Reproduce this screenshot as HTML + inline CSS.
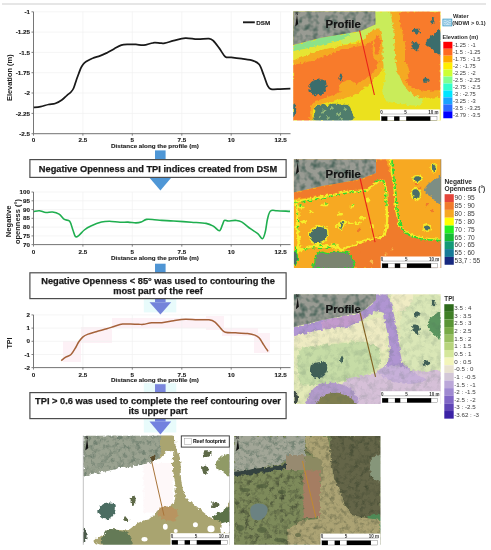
<!DOCTYPE html>
<html><head><meta charset="utf-8"><style>
html,body{margin:0;padding:0;background:#fff;}
body{width:491px;height:550px;overflow:hidden;position:relative;}
svg{position:absolute;left:0;top:0;display:block;will-change:transform;}
text{font-family:"Liberation Sans", sans-serif;}
.tk{font-size:6.25px;font-weight:bold;fill:#1a1a1a;stroke:#1a1a1a;stroke-width:0.12px;}
.bx{font-size:9.27px;font-weight:bold;fill:#1a1a1a;stroke:#1a1a1a;stroke-width:0.25px;}
.lg{font-size:5.7px;fill:#3a3a3a;}
.lgb{font-size:5.7px;font-weight:bold;fill:#2a2a2a;}
.sb{font-size:4.5px;font-weight:bold;fill:#333;}
</style></head><body>
<svg width="491" height="550" viewBox="0 0 491 550">
<defs>
<filter id="texA" x="0" y="0" width="1" height="1" color-interpolation-filters="sRGB">
<feTurbulence type="fractalNoise" baseFrequency="0.16" numOctaves="2" seed="4" result="n"/>
<feColorMatrix in="n" type="matrix" values="0 0 0 0 0.30  0 0 0 0 0.40  0 0 0 0 0.36  2.6 0 0 0 -1.1" result="c"/>
<feComposite in="c" in2="SourceAlpha" operator="in"/>
</filter>
<filter id="texO" x="0" y="0" width="1" height="1" color-interpolation-filters="sRGB">
<feTurbulence type="fractalNoise" baseFrequency="0.2" numOctaves="2" seed="9" result="n"/>
<feColorMatrix in="n" type="matrix" values="0 0 0 0 0.26  0 0 0 0 0.29  0 0 0 0 0.20  2.2 0 0 0 -1.0" result="c"/>
<feComposite in="c" in2="SourceAlpha" operator="in"/>
</filter>
<filter id="texB" x="0" y="0" width="1" height="1" color-interpolation-filters="sRGB">
<feTurbulence type="fractalNoise" baseFrequency="0.22" numOctaves="2" seed="7" result="n"/>
<feColorMatrix in="n" type="matrix" values="0 0 0 0 0.36  0 0 0 0 0.44  0 0 0 0 0.38  2.0 0 0 0 -0.9" result="c"/>
<feComposite in="c" in2="SourceAlpha" operator="in"/>
</filter>
<filter id="rough" x="0" y="0" width="1" height="1" color-interpolation-filters="sRGB">
<feTurbulence type="fractalNoise" baseFrequency="0.3" numOctaves="2" seed="5" result="t"/>
<feDisplacementMap in="SourceGraphic" in2="t" scale="4.5" xChannelSelector="R" yChannelSelector="G"/>
</filter>
<filter id="texL" x="0" y="0" width="1" height="1" color-interpolation-filters="sRGB">
<feTurbulence type="fractalNoise" baseFrequency="0.3" numOctaves="2" seed="2" result="n"/>
<feColorMatrix in="n" type="matrix" values="0 0 0 0 0.85  0 0 0 0 0.85  0 0 0 0 0.78  3.0 0 0 0 -1.6" result="c"/>
<feComposite in="c" in2="SourceAlpha" operator="in"/>
</filter>
</defs>
<rect x="0" y="0" width="491" height="550" fill="#fff"/>
<line x1="2" y1="4" x2="486" y2="4" stroke="#e6e6e6" stroke-width="2"/>

<line x1="34" y1="11.8" x2="290.5" y2="11.8" stroke="#f0f0f0" stroke-width="0.7"/>
<line x1="34" y1="32.1" x2="290.5" y2="32.1" stroke="#f0f0f0" stroke-width="0.7"/>
<line x1="34" y1="52.4" x2="290.5" y2="52.4" stroke="#f0f0f0" stroke-width="0.7"/>
<line x1="34" y1="72.7" x2="290.5" y2="72.7" stroke="#f0f0f0" stroke-width="0.7"/>
<line x1="34" y1="93.0" x2="290.5" y2="93.0" stroke="#f0f0f0" stroke-width="0.7"/>
<line x1="34" y1="113.4" x2="290.5" y2="113.4" stroke="#f0f0f0" stroke-width="0.7"/>
<line x1="34" y1="133.7" x2="290.5" y2="133.7" stroke="#f0f0f0" stroke-width="0.7"/>
<line x1="82.9" y1="11.8" x2="82.9" y2="133.7" stroke="#f0f0f0" stroke-width="0.7"/>
<line x1="132.3" y1="11.8" x2="132.3" y2="133.7" stroke="#f0f0f0" stroke-width="0.7"/>
<line x1="181.8" y1="11.8" x2="181.8" y2="133.7" stroke="#f0f0f0" stroke-width="0.7"/>
<line x1="231.2" y1="11.8" x2="231.2" y2="133.7" stroke="#f0f0f0" stroke-width="0.7"/>
<line x1="280.6" y1="11.8" x2="280.6" y2="133.7" stroke="#f0f0f0" stroke-width="0.7"/>
<line x1="33.5" y1="11.8" x2="33.5" y2="133.7" stroke="#666" stroke-width="0.9"/>
<line x1="33.5" y1="133.7" x2="290.5" y2="133.7" stroke="#666" stroke-width="0.9"/>
<line x1="31.5" y1="11.8" x2="33.5" y2="11.8" stroke="#666" stroke-width="0.8"/>
<text x="30" y="13.9" text-anchor="end" class="tk">-1</text>
<line x1="31.5" y1="32.1" x2="33.5" y2="32.1" stroke="#666" stroke-width="0.8"/>
<text x="30" y="34.2" text-anchor="end" class="tk">-1.25</text>
<line x1="31.5" y1="52.4" x2="33.5" y2="52.4" stroke="#666" stroke-width="0.8"/>
<text x="30" y="54.5" text-anchor="end" class="tk">-1.5</text>
<line x1="31.5" y1="72.7" x2="33.5" y2="72.7" stroke="#666" stroke-width="0.8"/>
<text x="30" y="74.8" text-anchor="end" class="tk">-1.75</text>
<line x1="31.5" y1="93.0" x2="33.5" y2="93.0" stroke="#666" stroke-width="0.8"/>
<text x="30" y="95.1" text-anchor="end" class="tk">-2</text>
<line x1="31.5" y1="113.4" x2="33.5" y2="113.4" stroke="#666" stroke-width="0.8"/>
<text x="30" y="115.5" text-anchor="end" class="tk">-2.25</text>
<line x1="31.5" y1="133.7" x2="33.5" y2="133.7" stroke="#666" stroke-width="0.8"/>
<text x="30" y="135.79999999999998" text-anchor="end" class="tk">-2.5</text>
<line x1="33.5" y1="133.7" x2="33.5" y2="135.7" stroke="#666" stroke-width="0.8"/>
<text x="33.5" y="142.29999999999998" text-anchor="middle" class="tk">0</text>
<line x1="82.9" y1="133.7" x2="82.9" y2="135.7" stroke="#666" stroke-width="0.8"/>
<text x="82.9" y="142.29999999999998" text-anchor="middle" class="tk">2.5</text>
<line x1="132.3" y1="133.7" x2="132.3" y2="135.7" stroke="#666" stroke-width="0.8"/>
<text x="132.3" y="142.29999999999998" text-anchor="middle" class="tk">5</text>
<line x1="181.8" y1="133.7" x2="181.8" y2="135.7" stroke="#666" stroke-width="0.8"/>
<text x="181.8" y="142.29999999999998" text-anchor="middle" class="tk">7.5</text>
<line x1="231.2" y1="133.7" x2="231.2" y2="135.7" stroke="#666" stroke-width="0.8"/>
<text x="231.2" y="142.29999999999998" text-anchor="middle" class="tk">10</text>
<line x1="280.6" y1="133.7" x2="280.6" y2="135.7" stroke="#666" stroke-width="0.8"/>
<text x="280.6" y="142.29999999999998" text-anchor="middle" class="tk">12.5</text>
<text x="155" y="148.29999999999998" text-anchor="middle" class="tk">Distance along the profile (m)</text>
<text transform="translate(12.2,77.7) rotate(-90)" text-anchor="middle" style="font-size:7.45px;font-weight:bold;fill:#1a1a1a">Elevation (m)</text>
<path d="M33.8,107.4 C34.9,107.3 38.1,107.1 40.6,106.6 C43.1,106.1 46.1,105.0 48.5,104.5 C50.9,104.0 53.0,104.2 55.2,103.5 C57.4,102.8 59.8,101.4 61.8,100.0 C63.8,98.6 65.5,96.6 67.0,95.3 C68.5,94.0 69.9,93.2 71.0,92.0 C72.1,90.8 72.8,90.0 73.7,88.0 C74.6,86.0 75.5,82.5 76.3,80.2 C77.1,77.9 77.9,75.9 78.6,74.0 C79.3,72.1 79.9,70.2 80.6,68.6 C81.3,67.0 82.1,65.7 83.0,64.5 C83.9,63.3 84.6,62.6 86.2,61.6 C87.8,60.6 90.3,59.2 92.6,58.3 C94.9,57.3 97.6,56.8 100.0,55.9 C102.4,55.0 104.3,54.1 106.8,52.9 C109.2,51.6 112.3,49.7 114.7,48.4 C117.1,47.1 119.1,45.9 121.3,45.2 C123.5,44.5 125.6,44.5 128.0,44.4 C130.4,44.3 133.3,44.3 135.9,44.4 C138.5,44.5 140.9,45.5 143.8,45.2 C146.7,44.9 150.4,43.1 153.1,42.8 C155.8,42.4 158.1,43.0 160.0,43.1 C161.9,43.2 162.5,43.5 164.8,43.1 C167.1,42.7 170.2,41.5 173.6,40.7 C177.0,39.9 181.4,38.4 185.4,38.1 C189.4,37.9 193.4,39.1 197.3,39.2 C201.2,39.3 206.3,38.3 209.0,38.6 C211.7,38.9 211.8,39.4 213.5,41.0 C215.2,42.6 217.4,45.8 219.4,48.4 C221.4,51.0 223.3,55.2 225.3,56.7 C227.3,58.2 228.5,57.0 231.2,57.3 C233.9,57.6 237.9,58.1 241.6,58.7 C245.3,59.3 250.4,59.8 253.4,60.8 C256.4,61.8 257.6,62.2 259.3,64.6 C261.0,67.0 262.3,71.5 263.7,75.0 C265.1,78.5 266.3,83.0 267.5,85.3 C268.7,87.6 268.9,88.5 271.0,89.1 C273.1,89.7 276.8,89.2 280.0,89.1 C283.2,89.0 288.7,88.7 290.4,88.6" fill="none" stroke="#1a1a1a" stroke-width="1.75" stroke-linejoin="round"/>
<line x1="243" y1="22.3" x2="254.8" y2="22.3" stroke="#1a1a1a" stroke-width="1.9"/>
<text x="256.3" y="24.5" class="tk">DSM</text>
<line x1="34" y1="192.0" x2="290.5" y2="192.0" stroke="#f0f0f0" stroke-width="0.7"/>
<line x1="34" y1="200.8" x2="290.5" y2="200.8" stroke="#f0f0f0" stroke-width="0.7"/>
<line x1="34" y1="209.6" x2="290.5" y2="209.6" stroke="#f0f0f0" stroke-width="0.7"/>
<line x1="34" y1="218.3" x2="290.5" y2="218.3" stroke="#f0f0f0" stroke-width="0.7"/>
<line x1="34" y1="227.1" x2="290.5" y2="227.1" stroke="#f0f0f0" stroke-width="0.7"/>
<line x1="34" y1="235.9" x2="290.5" y2="235.9" stroke="#f0f0f0" stroke-width="0.7"/>
<line x1="34" y1="244.6" x2="290.5" y2="244.6" stroke="#f0f0f0" stroke-width="0.7"/>
<line x1="82.9" y1="192.0" x2="82.9" y2="244.6" stroke="#f0f0f0" stroke-width="0.7"/>
<line x1="132.3" y1="192.0" x2="132.3" y2="244.6" stroke="#f0f0f0" stroke-width="0.7"/>
<line x1="181.8" y1="192.0" x2="181.8" y2="244.6" stroke="#f0f0f0" stroke-width="0.7"/>
<line x1="231.2" y1="192.0" x2="231.2" y2="244.6" stroke="#f0f0f0" stroke-width="0.7"/>
<line x1="280.6" y1="192.0" x2="280.6" y2="244.6" stroke="#f0f0f0" stroke-width="0.7"/>
<line x1="33.5" y1="192.0" x2="33.5" y2="244.6" stroke="#666" stroke-width="0.9"/>
<line x1="33.5" y1="244.6" x2="290.5" y2="244.6" stroke="#666" stroke-width="0.9"/>
<line x1="31.5" y1="192.0" x2="33.5" y2="192.0" stroke="#666" stroke-width="0.8"/>
<text x="30" y="194.1" text-anchor="end" class="tk">100</text>
<line x1="31.5" y1="200.8" x2="33.5" y2="200.8" stroke="#666" stroke-width="0.8"/>
<text x="30" y="202.9" text-anchor="end" class="tk">95</text>
<line x1="31.5" y1="209.6" x2="33.5" y2="209.6" stroke="#666" stroke-width="0.8"/>
<text x="30" y="211.7" text-anchor="end" class="tk">90</text>
<line x1="31.5" y1="218.3" x2="33.5" y2="218.3" stroke="#666" stroke-width="0.8"/>
<text x="30" y="220.4" text-anchor="end" class="tk">85</text>
<line x1="31.5" y1="227.1" x2="33.5" y2="227.1" stroke="#666" stroke-width="0.8"/>
<text x="30" y="229.2" text-anchor="end" class="tk">80</text>
<line x1="31.5" y1="235.9" x2="33.5" y2="235.9" stroke="#666" stroke-width="0.8"/>
<text x="30" y="238.0" text-anchor="end" class="tk">75</text>
<line x1="31.5" y1="244.6" x2="33.5" y2="244.6" stroke="#666" stroke-width="0.8"/>
<text x="30" y="246.7" text-anchor="end" class="tk">70</text>
<line x1="33.5" y1="244.6" x2="33.5" y2="246.6" stroke="#666" stroke-width="0.8"/>
<text x="33.5" y="253.9" text-anchor="middle" class="tk">0</text>
<line x1="82.9" y1="244.6" x2="82.9" y2="246.6" stroke="#666" stroke-width="0.8"/>
<text x="82.9" y="253.9" text-anchor="middle" class="tk">2.5</text>
<line x1="132.3" y1="244.6" x2="132.3" y2="246.6" stroke="#666" stroke-width="0.8"/>
<text x="132.3" y="253.9" text-anchor="middle" class="tk">5</text>
<line x1="181.8" y1="244.6" x2="181.8" y2="246.6" stroke="#666" stroke-width="0.8"/>
<text x="181.8" y="253.9" text-anchor="middle" class="tk">7.5</text>
<line x1="231.2" y1="244.6" x2="231.2" y2="246.6" stroke="#666" stroke-width="0.8"/>
<text x="231.2" y="253.9" text-anchor="middle" class="tk">10</text>
<line x1="280.6" y1="244.6" x2="280.6" y2="246.6" stroke="#666" stroke-width="0.8"/>
<text x="280.6" y="253.9" text-anchor="middle" class="tk">12.5</text>
<text x="155" y="259.70000000000005" text-anchor="middle" class="tk">Distance along the profile (m)</text>
<text transform="translate(11.2,221.3) rotate(-90)" text-anchor="middle" style="font-size:7.6px;font-weight:bold;fill:#1a1a1a">Negative</text>
<text transform="translate(20.3,221.5) rotate(-90)" text-anchor="middle" style="font-size:7.5px;font-weight:bold;fill:#1a1a1a">openness (°)</text>
<path d="M33.8,211.5 C34.7,211.4 37.3,210.5 39.3,210.7 C41.3,210.9 43.7,212.3 45.9,212.5 C48.1,212.7 50.3,211.7 52.5,212.0 C54.7,212.3 57.1,212.9 59.1,214.1 C61.1,215.3 62.6,218.2 64.4,219.4 C66.2,220.6 68.3,219.5 69.7,221.3 C71.1,223.1 71.9,227.4 72.9,230.0 C73.9,232.6 74.5,235.7 75.5,236.6 C76.5,237.5 77.5,236.4 79.0,235.3 C80.5,234.2 82.3,231.6 84.3,230.0 C86.3,228.4 88.0,227.3 90.9,226.0 C93.8,224.7 98.4,222.9 101.5,222.1 C104.6,221.3 106.3,221.3 109.4,221.3 C112.5,221.3 116.9,222.2 120.0,222.3 C123.1,222.4 125.3,222.0 128.0,222.1 C130.7,222.2 133.7,222.9 135.9,222.9 C138.1,222.9 139.4,222.7 141.2,222.1 C143.0,221.5 144.3,219.8 146.5,219.4 C148.7,219.0 151.8,219.5 154.4,219.7 C157.0,219.9 158.6,220.2 161.8,220.4 C165.0,220.6 168.7,220.7 173.6,221.0 C178.5,221.3 185.9,221.8 191.3,222.2 C196.7,222.6 202.4,222.7 206.1,223.4 C209.8,224.1 211.3,225.1 213.5,226.3 C215.7,227.5 217.9,231.0 219.4,230.8 C220.9,230.6 221.6,226.6 222.4,224.9 C223.2,223.2 223.4,221.1 224.4,220.4 C225.4,219.8 226.4,221.0 228.3,221.0 C230.2,221.0 233.4,220.2 235.6,220.4 C237.8,220.6 239.1,220.5 241.6,221.9 C244.1,223.3 247.7,226.7 250.4,228.7 C253.1,230.7 255.8,232.0 257.8,233.7 C259.8,235.4 261.2,239.0 262.4,238.8 C263.6,238.6 264.3,235.6 265.2,232.3 C266.1,229.0 266.6,222.6 267.5,219.0 C268.4,215.4 268.9,212.4 270.5,211.0 C272.1,209.6 273.8,210.6 277.0,210.7 C280.2,210.8 287.8,211.3 290.0,211.4" fill="none" stroke="#1fae4f" stroke-width="1.6" stroke-linejoin="round"/>
<g fill="#fdf1f6"><rect x="63" y="341" width="18" height="21"/><rect x="81" y="327" width="31" height="16"/><rect x="112" y="318" width="100" height="10"/><rect x="206" y="316" width="18" height="14"/><rect x="222" y="328" width="36" height="8"/><rect x="254" y="333" width="16" height="20"/></g>
<line x1="34" y1="314.9" x2="290.5" y2="314.9" stroke="#f0f0f0" stroke-width="0.7"/>
<line x1="34" y1="328.1" x2="290.5" y2="328.1" stroke="#f0f0f0" stroke-width="0.7"/>
<line x1="34" y1="341.3" x2="290.5" y2="341.3" stroke="#f0f0f0" stroke-width="0.7"/>
<line x1="34" y1="354.5" x2="290.5" y2="354.5" stroke="#f0f0f0" stroke-width="0.7"/>
<line x1="34" y1="367.6" x2="290.5" y2="367.6" stroke="#f0f0f0" stroke-width="0.7"/>
<line x1="82.9" y1="314.9" x2="82.9" y2="367.6" stroke="#f0f0f0" stroke-width="0.7"/>
<line x1="132.3" y1="314.9" x2="132.3" y2="367.6" stroke="#f0f0f0" stroke-width="0.7"/>
<line x1="181.8" y1="314.9" x2="181.8" y2="367.6" stroke="#f0f0f0" stroke-width="0.7"/>
<line x1="231.2" y1="314.9" x2="231.2" y2="367.6" stroke="#f0f0f0" stroke-width="0.7"/>
<line x1="280.6" y1="314.9" x2="280.6" y2="367.6" stroke="#f0f0f0" stroke-width="0.7"/>
<line x1="33.5" y1="314.9" x2="33.5" y2="367.6" stroke="#666" stroke-width="0.9"/>
<line x1="33.5" y1="367.6" x2="290.5" y2="367.6" stroke="#666" stroke-width="0.9"/>
<line x1="31.5" y1="314.9" x2="33.5" y2="314.9" stroke="#666" stroke-width="0.8"/>
<text x="30" y="317.0" text-anchor="end" class="tk">2</text>
<line x1="31.5" y1="328.1" x2="33.5" y2="328.1" stroke="#666" stroke-width="0.8"/>
<text x="30" y="330.20000000000005" text-anchor="end" class="tk">1</text>
<line x1="31.5" y1="341.3" x2="33.5" y2="341.3" stroke="#666" stroke-width="0.8"/>
<text x="30" y="343.40000000000003" text-anchor="end" class="tk">0</text>
<line x1="31.5" y1="354.5" x2="33.5" y2="354.5" stroke="#666" stroke-width="0.8"/>
<text x="30" y="356.6" text-anchor="end" class="tk">-1</text>
<line x1="31.5" y1="367.6" x2="33.5" y2="367.6" stroke="#666" stroke-width="0.8"/>
<text x="30" y="369.70000000000005" text-anchor="end" class="tk">-2</text>
<line x1="33.5" y1="367.6" x2="33.5" y2="369.6" stroke="#666" stroke-width="0.8"/>
<text x="33.5" y="376.6" text-anchor="middle" class="tk">0</text>
<line x1="82.9" y1="367.6" x2="82.9" y2="369.6" stroke="#666" stroke-width="0.8"/>
<text x="82.9" y="376.6" text-anchor="middle" class="tk">2.5</text>
<line x1="132.3" y1="367.6" x2="132.3" y2="369.6" stroke="#666" stroke-width="0.8"/>
<text x="132.3" y="376.6" text-anchor="middle" class="tk">5</text>
<line x1="181.8" y1="367.6" x2="181.8" y2="369.6" stroke="#666" stroke-width="0.8"/>
<text x="181.8" y="376.6" text-anchor="middle" class="tk">7.5</text>
<line x1="231.2" y1="367.6" x2="231.2" y2="369.6" stroke="#666" stroke-width="0.8"/>
<text x="231.2" y="376.6" text-anchor="middle" class="tk">10</text>
<line x1="280.6" y1="367.6" x2="280.6" y2="369.6" stroke="#666" stroke-width="0.8"/>
<text x="280.6" y="376.6" text-anchor="middle" class="tk">12.5</text>
<text x="155" y="382.40000000000003" text-anchor="middle" class="tk">Distance along the profile (m)</text>
<text transform="translate(12.2,343) rotate(-90)" text-anchor="middle" style="font-size:7.2px;font-weight:bold;fill:#1a1a1a">TPI</text>
<path d="M61.2,360.6 C62.0,360.0 64.1,358.2 65.7,357.2 C67.3,356.2 69.5,355.9 71.0,354.5 C72.5,353.1 73.7,350.9 75.0,348.7 C76.3,346.5 77.7,343.5 79.0,341.5 C80.3,339.5 81.5,338.0 83.0,336.8 C84.5,335.6 86.0,335.0 88.2,334.1 C90.4,333.2 93.1,332.6 96.2,331.7 C99.3,330.8 103.7,329.7 106.8,328.8 C109.9,327.9 112.0,327.0 114.7,326.2 C117.4,325.4 120.1,324.5 122.7,324.1 C125.3,323.8 128.0,324.1 130.6,324.1 C133.2,324.1 136.3,324.3 138.5,324.3 C140.7,324.3 141.6,324.6 143.8,324.3 C146.0,324.0 148.8,323.0 151.8,322.7 C154.8,322.4 158.2,323.0 161.8,322.7 C165.4,322.4 169.7,321.3 173.6,320.7 C177.5,320.1 181.4,319.3 185.4,319.2 C189.4,319.1 193.4,319.7 197.3,319.8 C201.2,319.9 206.1,319.4 209.0,319.8 C211.9,320.2 213.0,320.6 215.0,322.1 C217.0,323.6 219.2,326.9 220.9,328.6 C222.6,330.3 222.9,331.5 225.3,332.2 C227.8,332.9 231.9,332.6 235.6,332.8 C239.3,333.0 244.3,333.2 247.5,333.6 C250.7,334.0 252.8,334.4 254.8,335.1 C256.8,335.9 257.8,336.5 259.3,338.1 C260.8,339.7 262.2,342.7 263.7,344.9 C265.2,347.1 267.4,350.3 268.1,351.4" fill="none" stroke="#a5623a" stroke-width="1.5" stroke-linejoin="round"/>
<rect x="155" y="150.4" width="10.6" height="9.199999999999989" fill="#4f97d6"/>
<polygon points="149.5,177.7 171.2,177.7 160.4,190.4" fill="#4f97d6"/>
<rect x="155" y="263.7" width="10.6" height="9.300000000000011" fill="#4f95d4"/>
<rect x="143.8" y="298.2" width="32.5" height="14.199999999999989" fill="#e8fbfb"/><rect x="155" y="298.2" width="10.6" height="4" fill="#7484da"/><polygon points="149.5,302.2 171.2,302.2 160.4,314.4" fill="#7484da"/>
<rect x="143.8" y="383.2" width="32.5" height="9.600000000000023" fill="#e8fbfb"/><rect x="155" y="384.2" width="10.6" height="8.600000000000023" fill="#7a86dd"/>
<rect x="143.8" y="418.6" width="32.5" height="13.899999999999977" fill="#e8fbfb"/><rect x="155" y="418.6" width="10.6" height="3" fill="#7282df"/><polygon points="149.5,421.6 171.2,421.6 160.4,434.5" fill="#7282df"/>
<rect x="29.9" y="159.6" width="256.2" height="17.8" fill="#fff" stroke="#4d4d4d" stroke-width="1.2"/><text x="158" y="171.6" text-anchor="middle" class="bx">Negative Openness and TPI indices created from DSM</text>
<rect x="29.9" y="272.8" width="256.2" height="25.8" fill="#fff" stroke="#4d4d4d" stroke-width="1.2"/><text x="158" y="283.7" text-anchor="middle" class="bx">Negative Openness &lt; 85° was used to contouring the</text><text x="158" y="293.7" text-anchor="middle" class="bx">most part of the reef</text>
<rect x="29.9" y="392.6" width="256.2" height="25.99999999999999" fill="#fff" stroke="#4d4d4d" stroke-width="1.2"/><text x="158" y="403.7" text-anchor="middle" class="bx">TPI &gt; 0.6 was used to complete the reef contouring over</text><text x="158" y="413.7" text-anchor="middle" class="bx">its upper part</text>
<clipPath id="c1"><rect x="293.2" y="11.6" width="147.3" height="109"/></clipPath><g clip-path="url(#c1)"><g filter="url(#rough)"><rect x="287.2" y="5.6" width="159.3" height="121" fill="#ebe11e"/><polygon points="293.2,60.3 310.0,54.0 320.0,50.0 342.0,45.5 360.0,43.0 370.0,32.0 381.0,29.0 385.0,45.0 386.0,62.0 381.0,72.0 374.0,80.0 365.0,88.0 356.0,95.0 345.0,98.0 335.0,100.0 325.0,103.0 316.0,105.0 313.0,110.0 312.0,121.0 293.2,121.0" fill="#f5aa22" /><polygon points="293.2,64.5 300.0,63.5 310.0,61.5 320.0,58.0 330.0,54.0 342.0,49.0 355.0,47.0 365.0,45.0 372.0,41.0 377.0,39.0 380.5,48.0 380.5,60.0 376.0,68.0 371.0,75.0 362.0,80.0 355.0,85.0 345.0,90.0 333.0,95.0 322.0,99.0 315.0,101.0 311.0,106.0 310.0,121.0 293.2,121.0" fill="#f87b2b" /><path d="M338.0,86.0 C338.7,83.7 345.0,80.3 348.0,80.0 C351.0,79.7 355.0,82.0 356.0,84.0 C357.0,86.0 356.0,90.3 354.0,92.0 C352.0,93.7 346.7,95.0 344.0,94.0 C341.3,93.0 337.3,88.3 338.0,86.0Z" fill="#f5aa22" /><polygon points="388.0,11.6 440.5,11.6 440.5,97.0 425.0,98.0 410.0,95.0 402.0,86.0 397.0,72.0 395.0,55.0 394.0,40.0 392.0,25.0" fill="#f5aa22" /><polygon points="400.0,11.6 440.5,11.6 440.5,90.0 425.0,91.0 412.0,88.0 406.0,82.0 405.0,65.0 405.0,50.0 403.0,35.0 400.0,22.0" fill="#f87b2b" /><path d="M396.0,66.0 C396.8,63.3 401.8,61.3 404.0,62.0 C406.2,62.7 408.7,67.0 409.0,70.0 C409.3,73.0 407.7,78.7 406.0,80.0 C404.3,81.3 400.7,80.3 399.0,78.0 C397.3,75.7 395.2,68.7 396.0,66.0Z" fill="#f5aa22" /><polygon points="374.0,11.6 390.0,11.6 393.0,25.0 394.0,40.0 395.0,55.0 397.0,70.0 403.0,84.0 412.0,94.0 424.0,100.0 418.0,106.0 400.0,104.0 386.0,101.0 382.0,92.0 385.0,78.0 383.0,62.0 382.0,46.0 381.0,34.0 378.0,28.0 375.4,24.4" fill="#c9ec5a" /><path d="M333.0,36.0 C337.5,33.5 352.9,32.9 360.0,31.0 C367.1,29.1 372.2,24.9 375.4,24.4 C378.6,23.9 379.6,26.9 379.0,28.0 C378.4,29.1 374.2,29.7 372.0,31.0 C369.8,32.3 368.3,34.3 366.0,36.0 C363.7,37.7 361.5,39.7 358.0,41.0 C354.5,42.3 349.2,43.2 345.0,44.0 C340.8,44.8 335.0,47.3 333.0,46.0 C331.0,44.7 328.5,38.5 333.0,36.0Z" fill="#c9ec5a" /><path d="M372.0,31.0 C373.0,29.2 377.3,27.5 379.0,29.0 C380.7,30.5 381.5,35.7 382.0,40.0 C382.5,44.3 382.7,51.3 382.0,55.0 C381.3,58.7 379.5,62.0 378.0,62.0 C376.5,62.0 373.8,58.7 373.0,55.0 C372.2,51.3 373.2,44.0 373.0,40.0 C372.8,36.0 371.0,32.8 372.0,31.0Z" fill="#f5aa22" /><path d="M375.0,37.0 C375.7,35.0 378.2,34.2 379.0,36.0 C379.8,37.8 380.3,44.8 380.0,48.0 C379.7,51.2 377.8,55.0 377.0,55.0 C376.2,55.0 375.3,51.0 375.0,48.0 C374.7,45.0 374.3,39.0 375.0,37.0Z" fill="#f87b2b" /><polygon points="293.2,45.3 320.0,38.0 340.0,34.5 342.0,45.5 320.0,50.0 310.0,54.0 293.2,60.3" fill="#e6e433" /><polygon points="293.2,45.3 320.0,38.0 340.0,34.5 350.0,33.0 350.0,36.0 340.0,40.5 320.0,45.5 293.2,51.2" fill="#8ce28a" /><path d="M310.2,83.6 C311.1,81.8 313.2,80.8 315.2,80.1 C317.2,79.4 320.4,79.2 322.2,79.6 C324.0,80.0 325.6,80.9 326.2,82.6 C326.8,84.3 326.5,87.6 325.7,89.6 C324.9,91.6 323.1,93.7 321.2,94.6 C319.3,95.5 316.1,95.8 314.2,95.1 C312.3,94.4 310.4,92.5 309.7,90.6 C309.0,88.7 309.3,85.3 310.2,83.6Z" fill="#3b6d6c" /><path d="M340.7,73.6 C341.2,73.3 342.4,73.4 342.7,74.1 C342.9,74.8 342.5,76.4 342.2,77.6 C341.9,78.8 341.1,80.8 340.7,81.1 C340.2,81.4 339.7,80.5 339.5,79.6 C339.3,78.7 339.5,76.6 339.7,75.6 C339.9,74.6 340.2,73.8 340.7,73.6Z" fill="#3b6d6c" /><path d="M293.2,104.6 C293.6,102.9 295.2,105.4 295.7,106.6 C296.2,107.8 296.3,110.1 296.2,111.6 C296.1,113.1 295.7,114.8 295.2,115.6 C294.7,116.4 293.5,118.4 293.2,116.6 C292.9,114.8 292.8,106.3 293.2,104.6Z" fill="#3b6d6c" /><path d="M413.4,29.6 C414.1,28.9 417.0,28.5 418.2,28.8 C419.4,29.0 420.9,30.3 420.7,31.1 C420.5,31.9 418.4,33.4 417.2,33.7 C416.0,34.0 414.3,33.8 413.7,33.1 C413.1,32.4 412.6,30.3 413.4,29.6Z" fill="#3b6d6c" /><path d="M412.2,42.6 C412.9,41.8 415.0,41.4 416.2,41.9 C417.4,42.4 418.9,44.1 419.1,45.6 C419.4,47.1 418.6,50.1 417.7,50.9 C416.8,51.6 414.7,50.8 413.7,50.1 C412.7,49.4 411.9,47.9 411.7,46.6 C411.4,45.4 411.4,43.4 412.2,42.6Z" fill="#3b6d6c" /><path d="M440.5,31.3 C439.4,28.0 436.1,32.5 434.2,33.6 C432.3,34.7 430.6,36.3 429.2,37.6 C427.8,38.9 425.9,40.3 425.6,41.6 C425.3,42.9 426.1,44.4 427.2,45.6 C428.3,46.8 430.7,47.3 432.2,48.6 C433.7,49.9 434.8,52.6 436.2,53.4 C437.6,54.2 439.8,57.3 440.5,53.6 C441.2,49.9 441.6,34.6 440.5,31.3Z" fill="#3b6d6c" /><path d="M431.4,17.4 C431.9,16.6 434.1,17.2 434.6,18.1 C435.1,19.1 434.7,22.4 434.2,23.1 C433.7,23.9 432.2,23.6 431.7,22.6 C431.2,21.7 430.9,18.1 431.4,17.4Z" fill="#3b6d6c" /><path d="M423.2,79.1 C423.8,78.4 426.1,77.6 427.2,77.9 C428.3,78.1 429.8,79.8 429.7,80.6 C429.6,81.4 427.7,82.5 426.7,82.8 C425.7,83.0 424.3,82.7 423.7,82.1 C423.1,81.5 422.6,79.8 423.2,79.1Z" fill="#3b6d6c" /><path d="M315.2,107.6 C316.2,105.9 318.2,104.8 320.2,104.6 C322.2,104.3 325.0,106.2 327.2,106.1 C329.4,106.0 330.9,104.0 333.2,103.8 C335.5,103.5 338.7,104.3 341.2,104.6 C343.7,104.9 346.5,104.6 348.2,105.6 C349.9,106.6 350.7,108.1 351.2,110.6 C351.7,113.1 357.0,118.9 351.0,120.6 C345.0,122.3 321.3,121.6 315.2,120.6 C309.1,119.6 314.2,116.8 314.2,114.6 C314.2,112.4 314.2,109.3 315.2,107.6Z" fill="#4f7d6c" /><circle cx="323.2" cy="111.6" r="2" fill="#a8cc80" opacity="0.75"/><circle cx="331.2" cy="108.6" r="1.6" fill="#a8cc80" opacity="0.75"/><circle cx="338.2" cy="114.6" r="2" fill="#a8cc80" opacity="0.75"/><circle cx="345.2" cy="109.6" r="1.6" fill="#a8cc80" opacity="0.75"/><circle cx="320.2" cy="117.6" r="1.6" fill="#a8cc80" opacity="0.75"/><circle cx="328.2" cy="117.6" r="1.5" fill="#a8cc80" opacity="0.75"/><circle cx="341.2" cy="118.6" r="1.5" fill="#a8cc80" opacity="0.75"/></g><polygon points="290.0,8.0 375.4,8.0 375.4,24.4 360.0,31.2 340.0,34.5 320.0,38.0 290.0,45.8" fill="#999b93" /><polygon points="290.0,8.0 375.4,8.0 375.4,24.4 360.0,31.2 340.0,34.5 320.0,38.0 290.0,45.8" fill="#999b93" filter="url(#texA)"/><polygon points="297.0,14.6 298.2,24.1 295.2,26.6" fill="#111"/><text x="295.4" y="14.6" style="font-size:3.5px;font-weight:bold;fill:#222">N</text><text x="325.6" y="28.3" style="font-size:11.3px;font-weight:bold;fill:#141414;stroke:#141414;stroke-width:0.2px">Profile</text><line x1="359.6" y1="30.5" x2="374.4" y2="95" stroke="#e8201a" stroke-width="1.1"/></g><rect x="380" y="109.4" width="59.80000000000001" height="11.199999999999989" fill="#fff"/><line x1="381.5" y1="114.0" x2="437.8" y2="114.0" stroke="#666" stroke-width="0.4"/><text x="381.4" y="114.0" class="sb" text-anchor="middle">0</text><text x="405.6" y="114.0" class="sb" text-anchor="middle">5</text><text x="433.5" y="114.0" class="sb" text-anchor="middle">10 m</text><rect x="381.4" y="116.4" width="55.6" height="4.4" fill="none" stroke="#555" stroke-width="0.35"/><rect x="381.4" y="116.4" width="6.0" height="4.4" fill="#000"/><rect x="394.1" y="116.4" width="5.4" height="4.4" fill="#000"/><rect x="406.2" y="116.4" width="24.2" height="4.4" fill="#000"/><text x="453" y="18" class="lgb">Water</text><rect x="442.9" y="19.1" width="8.9" height="6.8" fill="#c4e2f2" stroke="#3d9bc4" stroke-width="0.8"/><path d="M444,21 q1.2,1.6 2.4,0 t2.4,0 t2.4,0 M444,23.4 q1.2,1.6 2.4,0 t2.4,0 t2.4,0" stroke="#4aa3cc" stroke-width="0.5" fill="none"/><text x="452.3" y="24.6" class="lgb">(NDWI &gt; 0.1)</text><text x="442.5" y="39" class="lgb">Elevation (m)</text><rect x="443.3" y="41.80" width="9.1" height="6.95" fill="#ff0000"/><text x="453" y="47.48" class="lg">-1.25 : -1</text><rect x="443.3" y="48.75" width="9.1" height="6.95" fill="#ff6a22"/><text x="453" y="54.43" class="lg">-1.5 : -1.25</text><rect x="443.3" y="55.70" width="9.1" height="6.95" fill="#ffa800"/><text x="453" y="61.38" class="lg">-1.75 : -1.5</text><rect x="443.3" y="62.65" width="9.1" height="6.95" fill="#ffee00"/><text x="453" y="68.33" class="lg">-2 : -1.75</text><rect x="443.3" y="69.60" width="9.1" height="6.95" fill="#ccff33"/><text x="453" y="75.28" class="lg">-2.25 : -2</text><rect x="443.3" y="76.55" width="9.1" height="6.95" fill="#7fff8f"/><text x="453" y="82.23" class="lg">-2.5 : -2.25</text><rect x="443.3" y="83.50" width="9.1" height="6.95" fill="#33ffcc"/><text x="453" y="89.18" class="lg">-2.75 : -2.5</text><rect x="443.3" y="90.45" width="9.1" height="6.95" fill="#00e5ff"/><text x="453" y="96.13" class="lg">-3 : -2.75</text><rect x="443.3" y="97.40" width="9.1" height="6.95" fill="#1aa3ff"/><text x="453" y="103.08" class="lg">-3.25 : -3</text><rect x="443.3" y="104.35" width="9.1" height="6.95" fill="#2b6bff"/><text x="453" y="110.03" class="lg">-3.5 : -3.25</text><rect x="443.3" y="111.30" width="9.1" height="6.95" fill="#0000ff"/><text x="453" y="116.98" class="lg">-3.79 : -3.5</text><clipPath id="c2"><rect x="293.9" y="159.2" width="147" height="108.7"/></clipPath><g clip-path="url(#c2)"><g filter="url(#rough)"><rect x="287.9" y="153.2" width="159" height="120.7" fill="#f7a922"/><polygon points="293.9,192.5 322.0,186.0 345.0,182.0 360.0,179.2 376.0,173.0 376.0,159.2 386.0,159.2 390.0,172.0 393.0,185.0 395.0,210.0 399.0,226.0 408.0,235.0 425.0,240.0 440.9,241.0 440.9,267.9 352.0,267.9 350.0,252.0 343.0,248.0 355.0,243.5 364.0,240.0 375.0,237.0 383.0,234.0 386.0,222.0 386.0,205.0 385.0,188.0 381.0,180.0 372.0,185.0 365.0,189.3 350.0,190.4 330.0,194.4 322.0,195.0 310.0,197.5 293.9,199.0" fill="#f07b2b" /><path d="M293.9,201.5 C296.6,201.2 304.0,200.5 310.0,199.5 C316.0,198.5 323.3,196.8 330.0,195.5 C336.7,194.2 344.2,192.4 350.0,191.5 C355.8,190.6 361.3,191.1 365.0,190.3 C368.7,189.5 369.7,188.1 372.0,186.5 C374.3,184.9 377.0,181.8 379.0,181.0 C381.0,180.2 382.8,180.5 384.0,182.0 C385.2,183.5 385.6,186.2 386.0,190.0 C386.4,193.8 386.3,199.7 386.5,205.0 C386.7,210.3 387.4,217.0 387.0,222.0 C386.6,227.0 386.0,232.3 384.0,235.0 C382.0,237.7 378.3,237.2 375.0,238.2 C371.7,239.2 367.3,239.9 364.0,241.0 C360.7,242.1 358.5,243.2 355.0,244.5 C351.5,245.8 345.0,248.2 343.0,249.0" fill="none" stroke="#f6ee2a" stroke-width="2.4" stroke-linecap="round" stroke-linejoin="round"/><path d="M391.0,160.0 C391.2,162.0 391.4,167.8 392.0,172.0 C392.6,176.2 393.8,178.7 394.5,185.0 C395.2,191.3 395.5,203.2 396.5,210.0 C397.5,216.8 398.4,222.0 400.5,226.0 C402.6,230.0 404.9,231.9 409.0,234.0 C413.1,236.1 419.7,237.8 425.0,238.8 C430.3,239.8 438.3,239.6 441.0,239.8" fill="none" stroke="#f6ee2a" stroke-width="2.4" stroke-linecap="round" stroke-linejoin="round"/><path d="M295.0,202.5 C297.5,202.2 304.2,201.5 310.0,200.5 C315.8,199.5 323.3,197.8 330.0,196.5 C336.7,195.2 344.2,193.4 350.0,192.5 C355.8,191.6 362.5,191.5 365.0,191.3" fill="none" stroke="#2fd72f" stroke-width="1.5" stroke-linecap="round" stroke-dasharray="3 4"/><path d="M376.0,181.5 C377.2,181.4 381.4,179.2 383.0,181.0 C384.6,182.8 385.0,187.5 385.5,192.0 C386.0,196.5 385.9,205.3 386.0,208.0" fill="none" stroke="#2fd72f" stroke-width="1.5" stroke-linecap="round" stroke-dasharray="4 3"/><path d="M392.0,161.0 C392.2,163.3 392.9,170.2 393.5,175.0 C394.1,179.8 394.8,183.8 395.5,190.0 C396.2,196.2 396.4,205.7 397.5,212.0 C398.6,218.3 399.9,224.1 402.0,228.0 C404.1,231.9 406.0,233.6 410.0,235.5 C414.0,237.4 420.8,238.7 426.0,239.5 C431.2,240.3 438.5,240.3 441.0,240.5" fill="none" stroke="#2fd72f" stroke-width="1.6" stroke-linecap="round" stroke-dasharray="5 2.5"/><path d="M296.0,204.0 C296.3,205.8 297.8,211.0 298.0,215.0 C298.2,219.0 296.8,223.8 297.0,228.0 C297.2,232.2 299.0,236.0 299.0,240.0 C299.0,244.0 297.3,250.0 297.0,252.0" fill="none" stroke="#f6ee2a" stroke-width="3.2" stroke-linecap="round" stroke-dasharray="6 2"/><path d="M296.5,206.0 C296.8,208.0 298.2,213.7 298.5,218.0 C298.8,222.3 298.1,229.7 298.0,232.0" fill="none" stroke="#2fd72f" stroke-width="1.3" stroke-linecap="round" stroke-dasharray="2 5"/><path d="M300.0,250.0 C301.7,249.5 306.7,247.7 310.0,247.0 C313.3,246.3 316.3,246.0 320.0,246.0 C323.7,246.0 328.2,246.4 332.0,247.0 C335.8,247.6 341.2,249.1 343.0,249.5" fill="none" stroke="#f6ee2a" stroke-width="3" stroke-linecap="round" stroke-dasharray="5 2"/><path d="M305.0,249.0 C307.2,248.8 313.8,247.6 318.0,247.5 C322.2,247.4 328.0,248.3 330.0,248.5" fill="none" stroke="#2fd72f" stroke-width="1.3" stroke-linecap="round" stroke-dasharray="3 4"/><path d="M336.0,226.0 C337.5,225.3 342.3,222.3 345.0,222.0 C347.7,221.7 349.2,224.0 352.0,224.0 C354.8,224.0 360.3,222.3 362.0,222.0" fill="none" stroke="#f6ee2a" stroke-width="2.2" stroke-linecap="round" stroke-dasharray="4 3"/><ellipse cx="300" cy="207" rx="4" ry="1.6" fill="#f6ee2a"/><ellipse cx="312" cy="212" rx="3" ry="1.2" fill="#f6ee2a"/><ellipse cx="325" cy="205" rx="4" ry="1.4" fill="#f6ee2a"/><ellipse cx="303" cy="222" rx="3" ry="1.5" fill="#f6ee2a"/><ellipse cx="318" cy="226" rx="3" ry="1.2" fill="#f6ee2a"/><ellipse cx="340" cy="214" rx="3" ry="1.5" fill="#f6ee2a"/><ellipse cx="352" cy="206" rx="2.5" ry="1.5" fill="#f6ee2a"/><ellipse cx="362" cy="218" rx="3" ry="1.5" fill="#f6ee2a"/><ellipse cx="335" cy="245" rx="4" ry="1.5" fill="#f6ee2a"/><ellipse cx="320" cy="245" rx="4" ry="1.5" fill="#f6ee2a"/><ellipse cx="300" cy="248" rx="3" ry="1.5" fill="#f6ee2a"/><ellipse cx="372" cy="226" rx="2" ry="2" fill="#f6ee2a"/><ellipse cx="368" cy="200" rx="2.5" ry="1.5" fill="#f6ee2a"/><ellipse cx="301" cy="206" rx="1.8" ry="0.9" fill="#2fd72f"/><ellipse cx="326" cy="204" rx="2" ry="0.9" fill="#2fd72f"/><ellipse cx="353" cy="205" rx="1.5" ry="0.8" fill="#2fd72f"/><ellipse cx="321" cy="245" rx="2" ry="0.9" fill="#2fd72f"/><ellipse cx="296" cy="250" rx="1.2" ry="3" fill="#2fd72f"/><ellipse cx="334" cy="244" rx="1.5" ry="0.8" fill="#2fd72f"/><circle cx="417" cy="184" r="1.3" fill="#f07b2b"/><circle cx="420" cy="188" r="1.3" fill="#f07b2b"/><circle cx="427" cy="205" r="1.3" fill="#f07b2b"/><circle cx="432" cy="210" r="1.3" fill="#f07b2b"/><circle cx="359" cy="230" r="1.3" fill="#f07b2b"/><circle cx="372" cy="262" r="1.3" fill="#f07b2b"/><circle cx="392" cy="250" r="1.3" fill="#f07b2b"/><circle cx="398" cy="262" r="1.3" fill="#f07b2b"/><circle cx="360" cy="252" r="1.3" fill="#f07b2b"/><circle cx="392" cy="250" r="1.4" fill="#f8b84a"/><circle cx="398" cy="262" r="1.4" fill="#f8b84a"/><circle cx="372" cy="262" r="1.4" fill="#f8b84a"/><circle cx="385" cy="254" r="1.4" fill="#f8b84a"/><path d="M310.9,231.2 C311.8,229.4 313.9,228.4 315.9,227.7 C317.9,227.0 321.1,226.8 322.9,227.2 C324.7,227.6 326.3,228.5 326.9,230.2 C327.5,231.9 327.2,235.2 326.4,237.2 C325.6,239.2 323.8,241.3 321.9,242.2 C320.0,243.1 316.8,243.4 314.9,242.7 C313.0,242.0 311.1,240.1 310.4,238.2 C309.7,236.3 310.0,232.9 310.9,231.2Z" fill="#f6ee2a" stroke="#f6ee2a" stroke-width="2.8"/><path d="M341.4,221.2 C341.9,220.9 343.1,221.0 343.4,221.7 C343.6,222.4 343.2,224.0 342.9,225.2 C342.6,226.4 341.8,228.4 341.4,228.7 C340.9,229.0 340.4,228.1 340.2,227.2 C340.0,226.3 340.2,224.2 340.4,223.2 C340.6,222.2 340.9,221.4 341.4,221.2Z" fill="#f6ee2a" stroke="#f6ee2a" stroke-width="2.8"/><path d="M414.1,177.2 C414.8,176.5 417.7,176.1 418.9,176.4 C420.1,176.6 421.6,177.9 421.4,178.7 C421.2,179.5 419.1,181.0 417.9,181.3 C416.7,181.6 415.0,181.4 414.4,180.7 C413.8,180.0 413.3,177.9 414.1,177.2Z" fill="#f6ee2a" stroke="#f6ee2a" stroke-width="2.8"/><path d="M412.9,190.2 C413.6,189.4 415.8,189.0 416.9,189.5 C418.0,190.0 419.5,191.7 419.8,193.2 C420.0,194.7 419.3,197.8 418.4,198.5 C417.5,199.2 415.4,198.4 414.4,197.7 C413.4,197.0 412.6,195.4 412.4,194.2 C412.1,192.9 412.1,191.0 412.9,190.2Z" fill="#f6ee2a" stroke="#f6ee2a" stroke-width="2.8"/><path d="M432.1,165.0 C432.6,164.2 434.8,164.8 435.3,165.7 C435.8,166.6 435.4,169.9 434.9,170.7 C434.4,171.4 432.9,171.1 432.4,170.2 C431.9,169.2 431.6,165.8 432.1,165.0Z" fill="#f6ee2a" stroke="#f6ee2a" stroke-width="2.8"/><path d="M423.9,226.7 C424.5,226.0 426.8,225.2 427.9,225.5 C429.0,225.8 430.5,227.4 430.4,228.2 C430.3,229.0 428.4,230.1 427.4,230.4 C426.4,230.6 425.0,230.3 424.4,229.7 C423.8,229.1 423.3,227.4 423.9,226.7Z" fill="#f6ee2a" stroke="#f6ee2a" stroke-width="2.8"/><path d="M310.9,231.2 C311.8,229.4 313.9,228.4 315.9,227.7 C317.9,227.0 321.1,226.8 322.9,227.2 C324.7,227.6 326.3,228.5 326.9,230.2 C327.5,231.9 327.2,235.2 326.4,237.2 C325.6,239.2 323.8,241.3 321.9,242.2 C320.0,243.1 316.8,243.4 314.9,242.7 C313.0,242.0 311.1,240.1 310.4,238.2 C309.7,236.3 310.0,232.9 310.9,231.2Z" fill="#4b6e68" /><path d="M341.4,221.2 C341.9,220.9 343.1,221.0 343.4,221.7 C343.6,222.4 343.2,224.0 342.9,225.2 C342.6,226.4 341.8,228.4 341.4,228.7 C340.9,229.0 340.4,228.1 340.2,227.2 C340.0,226.3 340.2,224.2 340.4,223.2 C340.6,222.2 340.9,221.4 341.4,221.2Z" fill="#4b6e68" /><path d="M414.1,177.2 C414.8,176.5 417.7,176.1 418.9,176.4 C420.1,176.6 421.6,177.9 421.4,178.7 C421.2,179.5 419.1,181.0 417.9,181.3 C416.7,181.6 415.0,181.4 414.4,180.7 C413.8,180.0 413.3,177.9 414.1,177.2Z" fill="#4b6e68" /><path d="M412.9,190.2 C413.6,189.4 415.8,189.0 416.9,189.5 C418.0,190.0 419.5,191.7 419.8,193.2 C420.0,194.7 419.3,197.8 418.4,198.5 C417.5,199.2 415.4,198.4 414.4,197.7 C413.4,197.0 412.6,195.4 412.4,194.2 C412.1,192.9 412.1,191.0 412.9,190.2Z" fill="#4b6e68" /><path d="M432.1,165.0 C432.6,164.2 434.8,164.8 435.3,165.7 C435.8,166.6 435.4,169.9 434.9,170.7 C434.4,171.4 432.9,171.1 432.4,170.2 C431.9,169.2 431.6,165.8 432.1,165.0Z" fill="#4b6e68" /><path d="M423.9,226.7 C424.5,226.0 426.8,225.2 427.9,225.5 C429.0,225.8 430.5,227.4 430.4,228.2 C430.3,229.0 428.4,230.1 427.4,230.4 C426.4,230.6 425.0,230.3 424.4,229.7 C423.8,229.1 423.3,227.4 423.9,226.7Z" fill="#4b6e68" /><path d="M441.2,177.2 C440.0,173.2 436.1,178.0 433.9,179.2 C431.7,180.4 429.4,182.5 427.9,184.2 C426.4,185.9 425.1,187.5 424.9,189.2 C424.7,190.9 425.7,192.9 426.9,194.2 C428.1,195.5 430.4,195.9 431.9,197.2 C433.4,198.5 434.3,201.2 435.9,202.2 C437.4,203.2 440.3,207.4 441.2,203.2 C442.1,199.0 442.4,181.2 441.2,177.2Z" fill="#7d8e84" /><path d="M293.9,252.2 C294.3,250.5 295.9,253.0 296.4,254.2 C296.9,255.4 297.0,257.7 296.9,259.2 C296.8,260.7 296.4,262.4 295.9,263.2 C295.4,264.0 294.2,266.0 293.9,264.2 C293.6,262.4 293.5,253.9 293.9,252.2Z" fill="#2fd72f" stroke="#2fd72f" stroke-width="2.2"/><path d="M293.9,252.2 C294.3,250.5 295.9,253.0 296.4,254.2 C296.9,255.4 297.0,257.7 296.9,259.2 C296.8,260.7 296.4,262.4 295.9,263.2 C295.4,264.0 294.2,266.0 293.9,264.2 C293.6,262.4 293.5,253.9 293.9,252.2Z" fill="#4b6e68" /><path d="M315.9,255.2 C316.9,253.5 318.9,252.4 320.9,252.2 C322.9,251.9 325.7,253.8 327.9,253.7 C330.1,253.6 331.6,251.6 333.9,251.4 C336.2,251.1 339.4,251.9 341.9,252.2 C344.4,252.5 347.2,252.2 348.9,253.2 C350.6,254.2 351.4,255.7 351.9,258.2 C352.4,260.7 357.7,266.5 351.7,268.2 C345.7,269.9 322.0,269.2 315.9,268.2 C309.8,267.2 314.9,264.4 314.9,262.2 C314.9,260.0 314.9,256.9 315.9,255.2Z" fill="#7b8470" stroke="#2fd72f" stroke-width="1.2"/></g><polygon points="290.0,155.0 376.0,155.0 376.0,173.0 360.0,179.2 345.0,182.0 322.0,186.0 290.0,193.2" fill="#999b93" /><polygon points="290.0,155.0 376.0,155.0 376.0,173.0 360.0,179.2 345.0,182.0 322.0,186.0 290.0,193.2" fill="#999b93" filter="url(#texA)"/><polygon points="297.7,162.2 298.9,171.7 295.9,174.2" fill="#111"/><text x="296.09999999999997" y="162.2" style="font-size:3.5px;font-weight:bold;fill:#222">N</text><text x="325.6" y="177.8" style="font-size:11.3px;font-weight:bold;fill:#141414;stroke:#141414;stroke-width:0.2px">Profile</text><line x1="360" y1="178" x2="375.1" y2="242.2" stroke="#e8201a" stroke-width="1.1"/></g><line x1="440.9" y1="159.2" x2="440.9" y2="267.9" stroke="#7a6a50" stroke-width="0.6"/><rect x="380.7" y="256.5" width="59.80000000000001" height="11.399999999999977" fill="#fff"/><line x1="382.2" y1="261.1" x2="438.5" y2="261.1" stroke="#666" stroke-width="0.4"/><text x="382.09999999999997" y="261.1" class="sb" text-anchor="middle">0</text><text x="406.3" y="261.1" class="sb" text-anchor="middle">5</text><text x="434.2" y="261.1" class="sb" text-anchor="middle">10 m</text><rect x="382.09999999999997" y="263.5" width="55.6" height="4.4" fill="none" stroke="#555" stroke-width="0.35"/><rect x="382.09999999999997" y="263.5" width="6.0" height="4.4" fill="#000"/><rect x="394.8" y="263.5" width="5.4" height="4.4" fill="#000"/><rect x="406.9" y="263.5" width="24.2" height="4.4" fill="#000"/><text x="444.5" y="184.2" class="lgb" style="font-size:6.6px">Negative</text><text x="444.5" y="191.2" class="lgb" style="font-size:6.6px">Openness (°)</text><rect x="444.6" y="194.20" width="9.2" height="7.84" fill="#e5453a"/><text x="454.6" y="200.42" class="lg" style="font-size:6.6px">90 : 95</text><rect x="444.6" y="202.04" width="9.2" height="7.84" fill="#f07a2c"/><text x="454.6" y="208.26" class="lg" style="font-size:6.6px">85 : 90</text><rect x="444.6" y="209.88" width="9.2" height="7.84" fill="#f7a822"/><text x="454.6" y="216.10" class="lg" style="font-size:6.6px">80 : 85</text><rect x="444.6" y="217.72" width="9.2" height="7.84" fill="#ffff00"/><text x="454.6" y="223.94" class="lg" style="font-size:6.6px">75 : 80</text><rect x="444.6" y="225.56" width="9.2" height="7.84" fill="#22ee22"/><text x="454.6" y="231.78" class="lg" style="font-size:6.6px">70 : 75</text><rect x="444.6" y="233.40" width="9.2" height="7.84" fill="#14bb33"/><text x="454.6" y="239.62" class="lg" style="font-size:6.6px">65 : 70</text><rect x="444.6" y="241.24" width="9.2" height="7.84" fill="#139977"/><text x="454.6" y="247.46" class="lg" style="font-size:6.6px">60 : 65</text><rect x="444.6" y="249.08" width="9.2" height="7.84" fill="#167a98"/><text x="454.6" y="255.30" class="lg" style="font-size:6.6px">55 : 60</text><rect x="444.6" y="256.92" width="9.2" height="7.84" fill="#17297f"/><text x="454.6" y="263.14" class="lg" style="font-size:6.6px">53,7 : 55</text><clipPath id="c3"><rect x="293.9" y="294.3" width="146.8" height="109.8"/></clipPath><g clip-path="url(#c3)"><g filter="url(#rough)"><rect x="287.9" y="288.3" width="158.8" height="121.8" fill="#e4eab8"/><path d="M300.0,350.0 C303.3,344.0 312.5,347.2 320.0,346.0 C327.5,344.8 337.5,343.7 345.0,343.0 C352.5,342.3 359.5,341.2 365.0,342.0 C370.5,342.8 375.5,344.7 378.0,348.0 C380.5,351.3 381.0,358.0 380.0,362.0 C379.0,366.0 376.2,369.3 372.0,372.0 C367.8,374.7 361.2,376.2 355.0,378.0 C348.8,379.8 341.7,381.8 335.0,383.0 C328.3,384.2 320.8,385.2 315.0,385.0 C309.2,384.8 302.5,387.8 300.0,382.0 C297.5,376.2 296.7,356.0 300.0,350.0Z" fill="#c6dca6" /><path d="M293.9,335.0 C299.9,331.8 319.0,330.2 330.0,328.0 C341.0,325.8 351.2,323.7 360.0,322.0 C368.8,320.3 378.7,316.7 383.0,318.0 C387.3,319.3 385.7,324.7 386.0,330.0 C386.3,335.3 386.8,347.5 385.0,350.0 C383.2,352.5 379.2,346.7 375.0,345.0 C370.8,343.3 365.8,340.5 360.0,340.0 C354.2,339.5 346.7,341.2 340.0,342.0 C333.3,342.8 327.7,344.2 320.0,345.0 C312.3,345.8 298.2,348.7 293.9,347.0 C289.5,345.3 287.9,338.2 293.9,335.0Z" fill="#eeebc2" /><path d="M405.0,300.0 C409.0,296.3 419.1,296.3 425.0,296.0 C430.9,295.7 438.1,285.3 440.7,298.0 C443.3,310.7 444.1,359.3 440.7,372.0 C437.2,384.7 425.9,375.0 420.0,374.0 C414.1,373.0 408.3,371.7 405.0,366.0 C401.7,360.3 400.7,348.0 400.0,340.0 C399.3,332.0 400.2,324.7 401.0,318.0 C401.8,311.3 401.0,303.7 405.0,300.0Z" fill="#dae7b7" /><path d="M440.7,313.0 C439.4,309.3 435.1,314.5 433.0,316.0 C430.9,317.5 428.5,319.7 428.0,322.0 C427.5,324.3 428.7,327.7 430.0,330.0 C431.3,332.3 434.2,334.7 436.0,336.0 C437.8,337.3 439.9,341.8 440.7,338.0 C441.5,334.2 442.0,316.7 440.7,313.0Z" fill="#5b955f" /><path d="M335.0,404.1 C317.9,402.1 336.2,396.0 338.0,392.0 C339.8,388.0 342.3,382.7 346.0,380.0 C349.7,377.3 355.2,377.2 360.0,376.0 C364.8,374.8 370.3,374.0 375.0,373.0 C379.7,372.0 384.2,371.0 388.0,370.0 C391.8,369.0 394.3,367.0 398.0,367.0 C401.7,367.0 405.5,369.2 410.0,370.0 C414.5,370.8 419.9,371.7 425.0,372.0 C430.1,372.3 438.1,366.6 440.7,372.0 C443.3,377.4 458.3,398.8 440.7,404.1 C423.1,409.5 352.1,406.1 335.0,404.1Z" fill="#d6c0d8" /><polygon points="293.9,327.2 322.0,319.9 360.0,312.8 368.0,307.0 376.0,300.0 376.0,294.3 388.0,294.3 392.0,306.0 395.0,320.0 398.0,335.0 400.0,350.0 402.0,362.0 410.0,370.0 418.0,378.0 405.0,380.0 392.0,377.0 383.0,373.0 388.0,362.0 390.0,350.0 388.0,335.0 385.0,322.0 384.0,313.0 378.0,311.0 372.0,313.0 365.0,318.5 350.0,326.4 320.0,330.0 293.9,336.0" fill="#b095d2" /><polygon points="322.0,320.5 345.0,316.0 360.0,313.5 366.0,317.0 350.0,325.5 322.0,329.5" fill="#c39bcd" /><path d="M378.0,372.0 C377.3,369.5 384.0,367.0 388.0,366.0 C392.0,365.0 397.3,364.7 402.0,366.0 C406.7,367.3 412.0,371.7 416.0,374.0 C420.0,376.3 427.0,378.3 426.0,380.0 C425.0,381.7 415.7,383.8 410.0,384.0 C404.3,384.2 397.3,383.0 392.0,381.0 C386.7,379.0 378.7,374.5 378.0,372.0Z" fill="#c7b0d9" /><path d="M392.0,294.3 C395.0,292.4 409.0,292.5 412.0,294.3 C415.0,296.1 412.0,302.1 410.0,305.0 C408.0,307.9 402.7,311.8 400.0,312.0 C397.3,312.2 395.3,308.9 394.0,306.0 C392.7,303.1 389.0,296.2 392.0,294.3Z" fill="#f0ecc4" /><path d="M308.0,398.0 C309.0,395.3 311.0,390.5 314.0,388.0 C317.0,385.5 321.7,383.7 326.0,383.0 C330.3,382.3 335.7,382.8 340.0,384.0 C344.3,385.2 349.3,386.6 352.0,390.0 C354.7,393.4 363.3,401.8 356.0,404.1 C348.7,406.5 316.0,405.1 308.0,404.1 C300.0,403.1 307.0,400.7 308.0,398.0Z" fill="#b49ccc" /><path d="M318.0,406.0 C312.8,404.5 319.7,399.2 322.0,397.0 C324.3,394.8 328.3,393.5 332.0,393.0 C335.7,392.5 340.7,393.0 344.0,394.0 C347.3,395.0 350.5,397.0 352.0,399.0 C353.5,401.0 358.7,404.8 353.0,406.0 C347.3,407.2 323.2,407.5 318.0,406.0Z" fill="#7f7e4f" /><path d="M293.9,392.0 C294.4,390.1 296.3,391.7 297.0,393.0 C297.7,394.3 298.2,398.1 298.0,400.0 C297.8,401.9 296.7,403.4 296.0,404.1 C295.3,404.8 294.2,406.1 293.9,404.1 C293.5,402.1 293.4,393.9 293.9,392.0Z" fill="#3e4a44" /><path d="M310.9,366.3 C311.8,364.6 313.9,363.5 315.9,362.8 C317.9,362.1 321.1,361.9 322.9,362.3 C324.7,362.7 326.3,363.6 326.9,365.3 C327.5,367.0 327.2,370.3 326.4,372.3 C325.6,374.3 323.8,376.4 321.9,377.3 C320.0,378.2 316.8,378.5 314.9,377.8 C313.0,377.1 311.1,375.2 310.4,373.3 C309.7,371.4 310.0,368.1 310.9,366.3Z" fill="#3f5f56" /><path d="M341.4,356.3 C341.9,356.1 343.1,356.1 343.4,356.8 C343.6,357.5 343.2,359.1 342.9,360.3 C342.6,361.5 341.8,363.5 341.4,363.8 C340.9,364.1 340.4,363.2 340.2,362.3 C340.0,361.4 340.2,359.3 340.4,358.3 C340.6,357.3 340.9,356.6 341.4,356.3Z" fill="#3f5f56" /><path d="M414.1,312.3 C414.8,311.6 417.7,311.2 418.9,311.5 C420.1,311.8 421.6,313.0 421.4,313.8 C421.2,314.6 419.1,316.1 417.9,316.4 C416.7,316.7 415.0,316.5 414.4,315.8 C413.8,315.1 413.3,313.0 414.1,312.3Z" fill="#3f5f56" /><path d="M412.9,325.3 C413.6,324.5 415.8,324.1 416.9,324.6 C418.0,325.1 419.5,326.8 419.8,328.3 C420.0,329.8 419.3,332.9 418.4,333.6 C417.5,334.4 415.4,333.5 414.4,332.8 C413.4,332.1 412.6,330.6 412.4,329.3 C412.1,328.1 412.1,326.1 412.9,325.3Z" fill="#3f5f56" /><path d="M432.1,300.1 C432.6,299.4 434.8,299.9 435.3,300.8 C435.8,301.8 435.4,305.1 434.9,305.8 C434.4,306.6 432.9,306.2 432.4,305.3 C431.9,304.4 431.6,300.9 432.1,300.1Z" fill="#3f5f56" /><path d="M423.9,361.8 C424.5,361.1 426.8,360.4 427.9,360.6 C429.0,360.9 430.5,362.5 430.4,363.3 C430.3,364.1 428.4,365.2 427.4,365.5 C426.4,365.8 425.0,365.4 424.4,364.8 C423.8,364.2 423.3,362.5 423.9,361.8Z" fill="#3f5f56" /><rect x="293.9" y="294.3" width="146.8" height="109.8" fill="#8a9080" filter="url(#texA)" opacity="0.2"/></g><polygon points="290.0,290.0 376.0,290.0 376.0,300.0 368.0,307.0 360.0,312.8 322.0,319.9 290.0,328.0" fill="#999b93" /><polygon points="290.0,290.0 376.0,290.0 376.0,300.0 368.0,307.0 360.0,312.8 322.0,319.9 290.0,328.0" fill="#999b93" filter="url(#texA)"/><polygon points="297.7,297.3 298.9,306.8 295.9,309.3" fill="#111"/><text x="296.09999999999997" y="297.3" style="font-size:3.5px;font-weight:bold;fill:#222">N</text><text x="325.6" y="312.9" style="font-size:11.3px;font-weight:bold;fill:#141414;stroke:#141414;stroke-width:0.2px">Profile</text><line x1="360" y1="312.5" x2="375.5" y2="376.8" stroke="#806020" stroke-width="1.1"/></g><rect x="380.8" y="391.2" width="59.80000000000001" height="13.0" fill="#fff"/><line x1="382.3" y1="395.8" x2="438.6" y2="395.8" stroke="#666" stroke-width="0.4"/><text x="382.2" y="395.8" class="sb" text-anchor="middle">0</text><text x="406.40000000000003" y="395.8" class="sb" text-anchor="middle">5</text><text x="434.3" y="395.8" class="sb" text-anchor="middle">10 m</text><rect x="382.2" y="398.2" width="55.6" height="4.4" fill="none" stroke="#555" stroke-width="0.35"/><rect x="382.2" y="398.2" width="6.0" height="4.4" fill="#000"/><rect x="394.90000000000003" y="398.2" width="5.4" height="4.4" fill="#000"/><rect x="407.0" y="398.2" width="24.2" height="4.4" fill="#000"/><text x="444.3" y="300.5" class="lgb" style="font-size:6.3px">TPI</text><rect x="444.3" y="304.20" width="9.4" height="7.63" fill="#2e6b1c"/><text x="454.3" y="310.21" class="lg" style="font-size:6.2px">3.5 : 4</text><rect x="444.3" y="311.83" width="9.4" height="7.63" fill="#3f7f26"/><text x="454.3" y="317.84" class="lg" style="font-size:6.2px">3 : 3.5</text><rect x="444.3" y="319.46" width="9.4" height="7.63" fill="#5a9536"/><text x="454.3" y="325.47" class="lg" style="font-size:6.2px">2.5 : 3</text><rect x="444.3" y="327.09" width="9.4" height="7.63" fill="#77aa46"/><text x="454.3" y="333.10" class="lg" style="font-size:6.2px">2 : 2.5</text><rect x="444.3" y="334.72" width="9.4" height="7.63" fill="#99c062"/><text x="454.3" y="340.73" class="lg" style="font-size:6.2px">1.5 : 2</text><rect x="444.3" y="342.35" width="9.4" height="7.63" fill="#b7d47c"/><text x="454.3" y="348.36" class="lg" style="font-size:6.2px">1 : 1.5</text><rect x="444.3" y="349.98" width="9.4" height="7.63" fill="#d5e79b"/><text x="454.3" y="355.99" class="lg" style="font-size:6.2px">0.5 : 1</text><rect x="444.3" y="357.61" width="9.4" height="7.63" fill="#f3f5ba"/><text x="454.3" y="363.62" class="lg" style="font-size:6.2px">0 : 0.5</text><rect x="444.3" y="365.24" width="9.4" height="7.63" fill="#e8e2cf"/><text x="454.3" y="371.25" class="lg" style="font-size:6.2px">-0.5 : 0</text><rect x="444.3" y="372.87" width="9.4" height="7.63" fill="#d3c7d8"/><text x="454.3" y="378.88" class="lg" style="font-size:6.2px">-1 : -0.5</text><rect x="444.3" y="380.50" width="9.4" height="7.63" fill="#bba7d9"/><text x="454.3" y="386.51" class="lg" style="font-size:6.2px">-1.5 : -1</text><rect x="444.3" y="388.13" width="9.4" height="7.63" fill="#9f89d1"/><text x="454.3" y="394.14" class="lg" style="font-size:6.2px">-2 : -1.5</text><rect x="444.3" y="395.76" width="9.4" height="7.63" fill="#8066c6"/><text x="454.3" y="401.77" class="lg" style="font-size:6.2px">-2.5 : -2</text><rect x="444.3" y="403.39" width="9.4" height="7.63" fill="#5f45b6"/><text x="454.3" y="409.40" class="lg" style="font-size:6.2px">-3 : -2.5</text><rect x="444.3" y="411.02" width="9.4" height="7.63" fill="#3b22a6"/><text x="454.3" y="417.03" class="lg" style="font-size:6.2px">-3.62 : -3</text><clipPath id="c4"><rect x="83.3" y="435.6" width="146.4" height="109.2"/></clipPath><g clip-path="url(#c4)"><g filter="url(#rough)"><rect x="77.3" y="429.6" width="158.4" height="121.2" fill="#ffffff"/><rect x="143.5" y="463" width="29.5" height="49.5" fill="#fef8f9"/><path d="M157.0,435.6 C159.5,431.9 169.9,434.0 173.0,435.6 C176.1,437.2 174.6,441.8 175.6,445.0 C176.6,448.2 178.4,451.7 179.2,455.0 C180.0,458.3 180.3,461.2 180.6,465.0 C180.9,468.8 180.6,473.8 181.0,478.0 C181.4,482.2 182.2,486.7 183.0,490.0 C183.8,493.3 184.7,496.0 186.0,498.0 C187.3,500.0 188.9,500.3 191.0,502.0 C193.1,503.7 195.8,505.8 198.5,508.0 C201.2,510.2 204.6,513.3 207.0,515.0 C209.4,516.7 210.7,518.0 213.0,518.0 C215.3,518.0 218.6,517.2 221.0,515.0 C223.4,512.8 225.8,507.5 227.6,505.0 C229.4,502.5 231.3,493.3 232.0,500.0 C232.7,506.7 253.3,537.5 232.0,545.0 C210.7,552.5 125.2,547.0 104.0,545.0 C82.8,543.0 104.0,535.7 105.0,533.0 C106.0,530.3 107.5,529.5 110.0,529.0 C112.5,528.5 117.0,529.8 120.0,530.0 C123.0,530.2 125.5,530.8 128.0,530.0 C130.5,529.2 132.7,526.5 135.0,525.0 C137.3,523.5 139.4,522.1 142.0,521.0 C144.6,519.9 148.1,520.3 150.8,518.5 C153.5,516.7 155.6,511.9 158.0,510.0 C160.4,508.1 163.0,507.8 165.3,507.0 C167.6,506.2 170.4,506.5 172.0,505.0 C173.6,503.5 174.4,501.3 175.0,498.0 C175.6,494.7 175.8,488.8 175.5,485.0 C175.2,481.2 173.9,479.2 173.5,475.0 C173.1,470.8 172.9,464.0 172.8,460.0 C172.7,456.0 173.8,452.8 172.8,451.2 C171.8,449.6 168.7,449.8 167.0,450.5 C165.3,451.2 164.3,454.2 162.8,455.5 C161.3,456.8 159.0,461.3 158.0,458.0 C157.0,454.7 154.5,439.3 157.0,435.6Z" fill="#a9a470" /><path d="M160.0,508.0 C161.8,506.8 167.2,506.7 170.0,507.0 C172.8,507.3 175.7,507.9 176.7,510.0 C177.7,512.1 178.3,517.9 176.0,519.5 C173.7,521.1 165.8,520.4 163.0,519.5 C160.2,518.6 159.5,515.9 159.0,514.0 C158.5,512.1 158.2,509.2 160.0,508.0Z" fill="#b89460" /><path d="M104.0,534.0 C105.0,531.3 107.3,529.5 110.0,529.0 C112.7,528.5 117.0,530.3 120.0,531.0 C123.0,531.7 126.0,531.5 128.0,533.0 C130.0,534.5 131.7,538.0 132.0,540.0 C132.3,542.0 134.7,544.2 130.0,545.0 C125.3,545.8 108.3,546.8 104.0,545.0 C99.7,543.2 103.0,536.7 104.0,534.0Z" fill="#647a56" /><path d="M213.0,516.0 C213.3,514.2 219.2,512.5 222.0,511.0 C224.8,509.5 228.2,504.8 229.5,507.0 C230.8,509.2 231.1,521.5 229.5,524.0 C227.9,526.5 222.8,523.3 220.0,522.0 C217.2,520.7 212.7,517.8 213.0,516.0Z" fill="#5c7248" /><path d="M221.4,523.7 C222.8,522.2 228.2,521.6 229.5,523.0 C230.8,524.4 230.8,530.5 229.5,532.0 C228.2,533.5 222.8,533.4 221.4,532.0 C220.1,530.6 220.1,525.2 221.4,523.7Z" fill="#ffffff" /><polygon points="83.3,435.6 161.0,435.6 161.0,449.0 160.0,457.0 155.0,461.2 150.0,462.7 140.0,465.0 130.0,467.0 120.0,468.0 110.0,470.5 100.0,472.5 90.0,474.5 83.3,475.5" fill="#9aa290" /><polygon points="83.3,435.6 161.0,435.6 161.0,449.0 160.0,457.0 155.0,461.2 150.0,462.7 140.0,465.0 130.0,467.0 120.0,468.0 110.0,470.5 100.0,472.5 90.0,474.5 83.3,475.5" fill="#9aa290" filter="url(#texB)"/><circle cx="153.5" cy="458.4" r="2.6" fill="#5a4a28"/><path d="M204.0,452.0 C204.8,451.2 207.7,451.2 209.0,451.5 C210.3,451.8 211.8,453.1 211.6,454.0 C211.4,454.9 209.3,456.7 208.0,457.0 C206.7,457.3 204.7,456.8 204.0,456.0 C203.3,455.2 203.2,452.8 204.0,452.0Z" fill="#5e6a48" /><path d="M202.3,467.0 C202.8,466.0 205.0,465.5 206.0,466.0 C207.0,466.5 208.4,468.7 208.5,470.0 C208.6,471.3 207.4,473.5 206.5,473.8 C205.6,474.1 203.7,473.1 203.0,472.0 C202.3,470.9 201.8,468.0 202.3,467.0Z" fill="#5e6a48" /><path d="M229.8,455.0 C228.5,451.8 224.3,455.8 222.0,457.0 C219.7,458.2 216.8,460.2 216.0,462.0 C215.2,463.8 215.8,466.3 217.0,468.0 C218.2,469.7 220.9,470.7 223.0,472.0 C225.1,473.3 228.7,478.8 229.8,476.0 C230.9,473.2 231.1,458.2 229.8,455.0Z" fill="#909a66" /><path d="M211.6,503.0 C212.3,502.2 214.8,501.4 216.0,501.7 C217.2,502.0 218.7,504.0 218.5,505.0 C218.3,506.0 216.1,507.6 215.0,507.8 C213.9,508.1 212.6,507.3 212.0,506.5 C211.4,505.7 210.9,503.8 211.6,503.0Z" fill="#5e6a48" /><path d="M131.0,497.5 C131.5,496.5 133.3,496.4 134.0,497.0 C134.7,497.6 135.6,499.5 135.4,501.0 C135.2,502.5 133.8,505.7 133.0,506.0 C132.2,506.3 131.1,504.4 130.8,503.0 C130.5,501.6 130.5,498.5 131.0,497.5Z" fill="#5e6a48" /><path d="M123.5,517.6 C124.2,517.2 127.1,517.5 128.0,518.0 C128.9,518.5 129.7,520.4 129.0,520.8 C128.3,521.2 124.9,521.0 124.0,520.5 C123.1,520.0 122.8,518.0 123.5,517.6Z" fill="#5e6a48" /><path d="M132.0,496.7 C132.4,495.5 134.7,495.6 135.2,497.0 C135.7,498.4 135.4,503.8 135.0,505.0 C134.6,506.2 133.0,505.4 132.5,504.0 C132.0,502.6 131.6,497.9 132.0,496.7Z" fill="#5e6a48" /><path d="M99.5,507.0 C100.4,505.4 102.1,503.9 104.0,503.2 C105.9,502.5 109.1,502.1 111.0,502.6 C112.9,503.1 115.0,504.3 115.6,506.0 C116.2,507.7 115.4,510.9 114.5,513.0 C113.6,515.1 111.9,517.8 110.0,518.7 C108.1,519.6 104.9,519.2 103.0,518.2 C101.1,517.2 99.2,514.9 98.6,513.0 C98.0,511.1 98.6,508.6 99.5,507.0Z" fill="#4b6d62" /><path d="M83.3,529.0 C83.8,527.3 85.5,529.7 86.0,531.0 C86.5,532.3 86.7,535.3 86.5,537.0 C86.3,538.7 85.5,540.3 85.0,541.0 C84.5,541.7 83.6,543.0 83.3,541.0 C83.0,539.0 82.8,530.7 83.3,529.0Z" fill="#4b5a4a" /></g><ellipse cx="165.3" cy="526.8" rx="2.4" ry="3" fill="#fff"/><ellipse cx="175.7" cy="531" rx="2" ry="2" fill="#fff"/><ellipse cx="195.4" cy="524.7" rx="2.5" ry="2.5" fill="#fff"/><ellipse cx="211" cy="528.9" rx="3.6" ry="3.3" fill="#fff"/><ellipse cx="144.5" cy="539.3" rx="3" ry="2.2" fill="#fff"/><polygon points="87.1,438.6 88.3,448.1 85.3,450.6" fill="#111"/><text x="85.5" y="438.6" style="font-size:3.5px;font-weight:bold;fill:#222">N</text><line x1="151.7" y1="461.4" x2="164" y2="515.6" stroke="#a8743a" stroke-width="1"/></g><line x1="83.3" y1="435.6" x2="83.3" y2="544.8000000000001" stroke="#999" stroke-width="0.6"/><line x1="229.5" y1="435.6" x2="229.5" y2="544.8000000000001" stroke="#b0b0b0" stroke-width="0.6"/><rect x="181.3" y="435.9" width="48" height="11.2" fill="#fff" stroke="#333" stroke-width="0.9"/><rect x="184.3" y="438.8" width="7.1" height="5.4" fill="#fff" stroke="#888" stroke-width="0.4"/><text x="193" y="443" style="font-size:5px;font-weight:bold;fill:#222;stroke:#222;stroke-width:0.12px">Reef footprint</text><rect x="170.5" y="533.2" width="59.099999999999994" height="11.799999999999955" fill="#fff"/><line x1="172.0" y1="537.8000000000001" x2="227.6" y2="537.8000000000001" stroke="#666" stroke-width="0.4"/><text x="171.9" y="537.8000000000001" class="sb" text-anchor="middle">0</text><text x="196.1" y="537.8000000000001" class="sb" text-anchor="middle">5</text><text x="224.0" y="537.8000000000001" class="sb" text-anchor="middle">10 m</text><rect x="171.9" y="540.2" width="55.6" height="4.4" fill="none" stroke="#555" stroke-width="0.35"/><rect x="171.9" y="540.2" width="6.0" height="4.4" fill="#000"/><rect x="184.6" y="540.2" width="5.4" height="4.4" fill="#000"/><rect x="196.7" y="540.2" width="24.2" height="4.4" fill="#000"/><clipPath id="c5"><rect x="234.1" y="436" width="146.4" height="108.8"/></clipPath><g clip-path="url(#c5)"><g filter="url(#rough)"><rect x="228.1" y="430" width="158.4" height="120.8" fill="#7d8a5a"/><polygon points="228.0,430.0 387.0,430.0 387.0,551.0 228.0,551.0" fill="#7d8a5a" filter="url(#texO)"/><polygon points="234.1,436.0 305.0,436.0 305.0,455.0 292.0,458.0 280.0,464.0 265.0,467.0 250.0,470.0 234.1,472.0" fill="#a2a697" /><polygon points="234.1,436.0 305.0,436.0 305.0,455.0 292.0,458.0 280.0,464.0 265.0,467.0 250.0,470.0 234.1,472.0" fill="#a2a697" filter="url(#texB)"/><path d="M234.1,474.0 C235.9,473.8 241.5,473.5 245.0,473.0 C248.5,472.5 251.7,471.5 255.0,471.0 C258.3,470.5 260.8,470.6 265.0,470.0 C269.2,469.4 275.5,468.2 280.0,467.5 C284.5,466.8 288.7,465.9 292.0,465.5 C295.3,465.1 298.7,465.1 300.0,465.0" fill="none" stroke="#34423f" stroke-width="4.6" stroke-linecap="round"/><polygon points="331.0,436.0 380.5,436.0 380.5,520.0 365.0,518.0 352.0,515.0 345.0,505.0 340.0,490.0 334.0,478.0 331.0,462.0 330.0,450.0" fill="#646548" /><polygon points="331.0,436.0 380.5,436.0 380.5,520.0 365.0,518.0 352.0,515.0 345.0,505.0 340.0,490.0 334.0,478.0 331.0,462.0 330.0,450.0" fill="#646548" filter="url(#texO)"/><path d="M371.0,460.0 C372.4,456.7 378.9,453.7 380.5,457.0 C382.1,460.3 381.9,476.7 380.5,480.0 C379.1,483.3 373.6,480.3 372.0,477.0 C370.4,473.7 369.6,463.3 371.0,460.0Z" fill="#86967a" /><path d="M368.0,517.0 C369.8,514.5 378.4,512.5 380.5,515.0 C382.6,517.5 382.2,529.5 380.5,532.0 C378.8,534.5 372.1,532.5 370.0,530.0 C367.9,527.5 366.2,519.5 368.0,517.0Z" fill="#4f8a56" /><polygon points="305.0,436.0 328.0,436.0 330.0,450.0 331.0,462.0 334.0,478.0 340.0,490.0 345.0,505.0 352.0,515.0 365.0,518.0 380.5,520.0 380.5,545.0 288.0,545.0 287.0,530.0 300.0,521.0 318.0,519.0 318.0,500.0 320.0,485.0 323.0,470.0 320.0,460.0 312.0,455.0 306.0,450.0" fill="#aca374" /><polygon points="305.0,436.0 328.0,436.0 330.0,450.0 331.0,462.0 334.0,478.0 340.0,490.0 345.0,505.0 352.0,515.0 365.0,518.0 380.5,520.0 380.5,545.0 288.0,545.0 287.0,530.0 300.0,521.0 318.0,519.0 318.0,500.0 320.0,485.0 323.0,470.0 320.0,460.0 312.0,455.0 306.0,450.0" fill="#aca374" filter="url(#texO)" opacity="0.55"/><polygon points="306.0,455.0 320.0,458.0 323.0,470.0 320.0,485.0 318.0,500.0 305.0,500.0 304.0,470.0" fill="#8c8a62" /><polygon points="303.5,470.4 320.0,470.4 320.0,517.0 303.5,517.0" fill="#a57d62" /><polygon points="286.0,455.0 305.0,455.0 305.0,470.0 286.0,470.0" fill="#978a70" /></g><path d="M251.0,507.0 C251.9,505.4 254.0,504.2 256.0,503.7 C258.0,503.2 261.1,503.3 263.0,504.0 C264.9,504.7 267.0,506.2 267.5,508.0 C268.0,509.8 267.2,513.0 266.0,515.0 C264.8,517.0 262.2,519.3 260.0,520.0 C257.8,520.7 254.6,520.2 253.0,519.0 C251.4,517.8 250.7,515.0 250.4,513.0 C250.1,511.0 250.1,508.6 251.0,507.0Z" fill="#6b8282" /><ellipse cx="245" cy="490" rx="5" ry="2" fill="#4a5838" opacity="0.6"/><ellipse cx="262" cy="486" rx="6" ry="2" fill="#4a5838" opacity="0.6"/><ellipse cx="282" cy="492" rx="4" ry="2" fill="#4a5838" opacity="0.6"/><ellipse cx="240" cy="528" rx="4" ry="3" fill="#4a5838" opacity="0.6"/><ellipse cx="262" cy="530" rx="5" ry="3" fill="#4a5838" opacity="0.6"/><ellipse cx="280" cy="540" rx="6" ry="2" fill="#4a5838" opacity="0.6"/><ellipse cx="298" cy="535" rx="3" ry="2" fill="#4a5838" opacity="0.6"/><polygon points="237.9,439 239.1,448.5 236.1,451" fill="#111"/><text x="236.29999999999998" y="439" style="font-size:3.5px;font-weight:bold;fill:#222">N</text><line x1="302.5" y1="461" x2="316" y2="518" stroke="#c08a30" stroke-width="1"/></g><rect x="320.5" y="533.6" width="59.89999999999998" height="11.399999999999977" fill="#fff"/><line x1="322.0" y1="538.2" x2="378.4" y2="538.2" stroke="#666" stroke-width="0.4"/><text x="321.9" y="538.2" class="sb" text-anchor="middle">0</text><text x="346.1" y="538.2" class="sb" text-anchor="middle">5</text><text x="374.0" y="538.2" class="sb" text-anchor="middle">10 m</text><rect x="321.9" y="540.6" width="55.6" height="4.4" fill="none" stroke="#555" stroke-width="0.35"/><rect x="321.9" y="540.6" width="6.0" height="4.4" fill="#000"/><rect x="334.6" y="540.6" width="5.4" height="4.4" fill="#000"/><rect x="346.7" y="540.6" width="24.2" height="4.4" fill="#000"/>
</svg></body></html>
